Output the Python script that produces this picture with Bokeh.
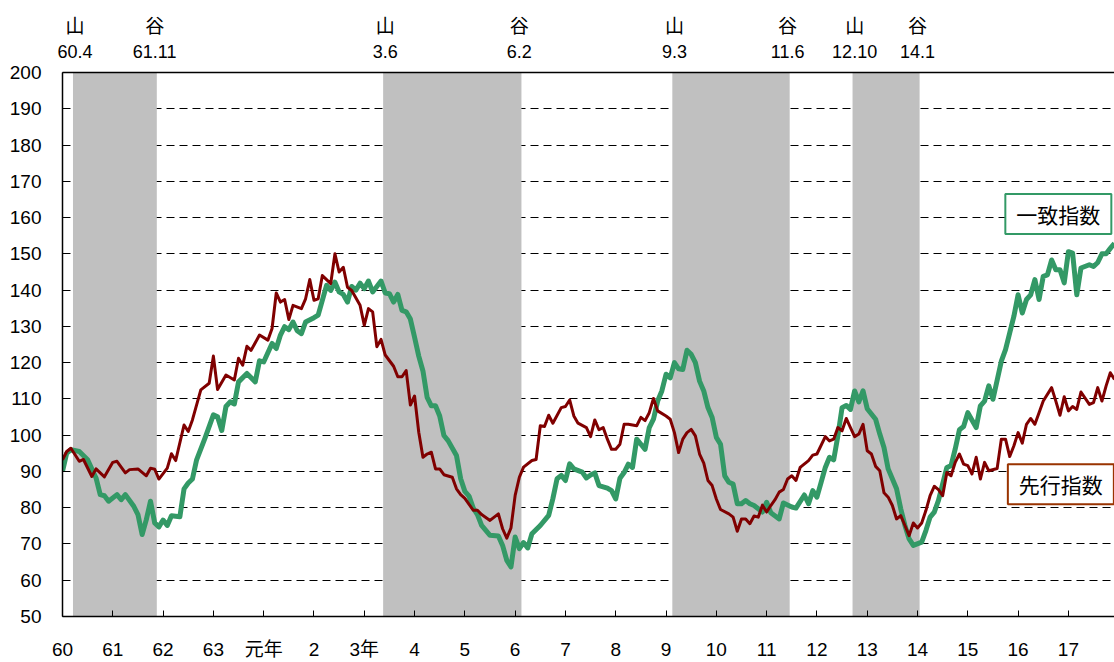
from bokeh.plotting import figure
from bokeh.models import Range1d, FixedTicker, LinearAxis, Label
from bokeh.embed import file_html
from bokeh.resources import INLINE

# months counted from January of Showa 60 (1985)
year_ticks = [0, 12, 24, 36, 48, 60, 72, 84, 96, 108, 120, 132, 144, 156, 168, 180, 192, 204, 216, 228, 240]
year_labels = ["60", "61", "62", "63", "元年", "2", "3年", "4", "5", "6", "7", "8", "9", "10",
               "11", "12", "13", "14", "15", "16", "17"]

cycle_months = [3, 22, 77, 109, 146, 173, 189, 204]
cycle_dates = ["60.4", "61.11", "3.6", "6.2", "9.3", "11.6", "12.10", "14.1"]
cycle_kinds = ["山", "谷", "山", "谷", "山", "谷", "山", "谷"]

lead_month = [0, 1, 2, 4, 5, 7, 8, 10, 12, 13, 15, 16, 18, 20, 21, 22, 23, 25, 26, 27, 29, 30, 31, 33, 35,
              36, 37, 39, 41, 42, 43, 44, 45, 47, 49, 50, 51, 52, 53, 54, 55, 57, 58, 59, 60, 61, 62, 64,
              65, 66, 67, 68, 69, 71, 72, 73, 74, 75, 76, 77, 79, 80, 81, 82, 83, 84, 85, 86, 87, 88, 89,
              90, 91, 93, 94, 95, 96, 98, 99, 100, 102, 103, 104, 105, 106, 107, 108, 109, 110, 112, 113,
              114, 115, 116, 117, 119, 120, 121, 122, 123, 125, 126, 127, 128, 129, 130, 131, 132, 133,
              134, 135, 137, 138, 139, 140, 141, 142, 144, 145, 146, 147, 148, 149, 150, 151, 152, 153,
              154, 155, 156, 157, 159, 160, 161, 162, 163, 164, 165, 166, 167, 168, 169, 170, 171, 172,
              173, 174, 175, 176, 178, 179, 180, 182, 183, 184, 185, 186, 187, 188, 189, 190, 191, 192,
              193, 194, 195, 196, 197, 198, 199, 200, 201, 202, 203, 204, 205, 206, 207, 208, 209, 210,
              211, 212, 213, 214, 215, 216, 217, 218, 219, 220, 221, 223, 224, 225, 226, 227, 228, 229,
              230, 231, 232, 233, 234, 236, 237, 238, 239, 240, 241, 242, 243, 245, 246, 247, 248, 249,
              250, 251]
lead_value = [93.2, 95.5, 96.4, 92.8, 93.3, 88.6, 90.7, 88.5, 92.5, 92.8, 89.6, 90.5, 90.7, 88.8, 90.9,
              90.6, 87.9, 90.9, 94.9, 93.0, 102.8, 101.0, 104.2, 112.5, 114.3, 121.8, 112.6, 116.6, 115.2,
              121.2, 119.3, 124.5, 123.4, 127.6, 126.2, 129.4, 139.2, 136.7, 137.4, 131.9, 135.8, 134.9,
              137.6, 142.9, 137.2, 137.6, 144.0, 141.8, 150.0, 145.0, 146.3, 140.8, 139.9, 135.8, 130.3,
              134.9, 134.0, 124.4, 126.4, 122.1, 119.0, 116.1, 116.1, 117.8, 108.3, 110.8, 100.8, 93.9,
              94.8, 95.3, 90.7, 90.7, 89.1, 88.4, 85.2, 83.6, 82.6, 79.3, 79.3, 78.1, 76.5, 77.4, 78.3,
              74.2, 71.6, 74.4, 83.4, 88.4, 91.2, 93.0, 93.3, 102.6, 102.4, 105.5, 103.3, 107.6, 107.9,
              109.7, 105.3, 103.3, 102.1, 99.6, 104.2, 101.5, 102.1, 98.9, 96.1, 96.1, 97.5, 103.0, 103.0,
              102.6, 104.9, 104.0, 106.2, 110.1, 106.7, 105.3, 104.4, 100.7, 95.2, 98.9, 100.7, 101.6,
              99.8, 94.8, 92.3, 87.5, 86.1, 82.4, 79.5, 78.3, 77.4, 73.5, 76.9, 76.9, 75.6, 77.7, 77.4,
              80.7, 78.8, 80.6, 82.2, 84.3, 85.0, 87.9, 88.8, 87.5, 91.1, 93.0, 94.5, 94.8, 99.6, 98.4,
              98.9, 102.1, 101.2, 104.6, 102.1, 99.6, 100.3, 103.0, 95.7, 94.8, 91.4, 90.2, 84.1, 82.9,
              80.6, 76.9, 77.8, 75.1, 72.3, 75.8, 74.4, 75.8, 79.2, 83.3, 85.9, 85.0, 83.3, 89.7, 88.8,
              92.5, 94.8, 92.0, 91.6, 89.3, 93.9, 87.9, 92.5, 90.2, 90.8, 98.9, 98.9, 94.1, 97.1, 100.7,
              97.8, 103.0, 104.6, 103.0, 106.2, 109.4, 113.1, 109.4, 105.5, 110.6, 106.7, 107.9, 107.1,
              111.9, 108.5, 109.0, 113.1, 109.4, 113.6, 117.2, 115.4]

coin_month = [0, 1, 2, 4, 6, 8, 9, 10, 11, 13, 14, 15, 17, 18, 19, 20, 21, 22, 23, 24, 25, 26, 28, 29, 30,
              31, 32, 34, 36, 37, 38, 39, 40, 41, 42, 44, 46, 47, 48, 50, 51, 52, 53, 54, 55, 56, 57, 58,
              60, 61, 63, 64, 65, 66, 67, 68, 69, 70, 71, 72, 73, 74, 76, 77, 78, 79, 80, 81, 82, 83, 84,
              85, 86, 87, 88, 89, 90, 91, 92, 94, 95, 96, 97, 98, 99, 100, 102, 104, 105, 106, 107, 108,
              109, 110, 111, 112, 114, 116, 117, 118, 119, 120, 121, 122, 124, 125, 126, 127, 128, 130,
              131, 132, 133, 134, 135, 136, 137, 138, 139, 140, 141, 142, 143, 144, 145, 146, 147, 148,
              149, 150, 151, 152, 153, 154, 155, 156, 157, 158, 159, 160, 161, 162, 163, 164, 165, 167,
              168, 169, 171, 172, 174, 175, 177, 178, 179, 180, 181, 182, 183, 184, 185, 186, 187, 188,
              189, 190, 191, 192, 194, 195, 196, 197, 199, 200, 201, 202, 203, 205, 206, 207, 208, 209,
              211, 212, 213, 214, 215, 216, 218, 219, 220, 221, 222, 224, 225, 226, 227, 228, 229, 230,
              231, 232, 233, 234, 235, 236, 237, 238, 239, 240, 241, 242, 243, 245, 246, 247, 248, 249,
              250, 251]
coin_value = [90.0, 95.0, 96.0, 95.5, 93.2, 88.2, 83.6, 83.3, 81.8, 83.6, 82.2, 83.6, 80.4, 78.1, 72.6,
              76.7, 81.8, 75.8, 74.7, 76.6, 75.1, 77.8, 77.5, 85.2, 86.8, 87.9, 93.2, 99.2, 105.6, 105.1,
              101.3, 107.9, 109.2, 108.6, 114.7, 117.0, 114.7, 120.5, 120.2, 125.3, 123.9, 127.6, 129.9,
              129.1, 131.2, 128.8, 128.0, 131.2, 132.4, 133.1, 141.3, 139.9, 142.2, 139.5, 138.8, 136.7,
              141.0, 140.0, 141.9, 140.4, 142.5, 139.5, 142.5, 139.2, 139.0, 136.7, 138.8, 134.4, 134.0,
              132.0, 127.0, 121.8, 117.7, 110.4, 108.1, 108.1, 105.3, 99.9, 98.5, 94.4, 88.0, 84.5, 83.2,
              79.9, 78.1, 75.1, 72.4, 72.2, 69.6, 65.5, 63.7, 71.9, 68.7, 70.4, 68.9, 72.8, 75.1, 77.9,
              82.5, 88.0, 88.9, 87.5, 92.1, 90.7, 89.8, 88.2, 89.0, 89.6, 86.1, 85.4, 84.7, 82.4, 88.1,
              89.7, 92.0, 91.1, 98.9, 97.5, 96.1, 102.1, 104.4, 109.4, 112.2, 116.8, 115.8, 120.0, 118.3,
              118.1, 123.4, 122.3, 120.0, 114.9, 112.2, 107.6, 104.9, 99.4, 97.5, 88.8, 87.0, 86.5, 81.1,
              81.1, 82.0, 81.1, 80.6, 78.8, 81.5, 78.6, 76.9, 81.3, 80.2, 79.9, 83.5, 81.1, 84.7, 82.9,
              87.0, 91.1, 93.9, 93.2, 99.8, 107.6, 108.2, 107.1, 112.2, 109.2, 112.2, 107.3, 104.4, 100.3,
              96.6, 90.7, 85.2, 79.7, 75.1, 71.4, 69.6, 70.5, 73.7, 77.4, 78.8, 82.0, 91.1, 91.6, 96.2,
              101.5, 102.4, 106.2, 102.1, 108.1, 109.4, 113.6, 109.9, 120.4, 123.6, 128.2, 132.8, 138.7,
              133.7, 137.4, 138.7, 142.9, 137.4, 143.8, 144.2, 148.3, 145.6, 145.6, 142.0, 150.6, 150.2,
              138.7, 146.1, 147.0, 146.5, 147.6, 150.0, 150.0, 151.5, 152.9]

y_ticks = list(range(50, 201, 10))

NUM_FONT = "'Liberation Sans', Arial, 'Noto Sans CJK JP'"
JP_FONT = "'Noto Sans CJK JP'"

p = figure(width=1114, height=662, x_range=Range1d(0, 251), y_range=Range1d(50, 200),
           output_backend="svg", toolbar_location=None,
           min_border_left=62, min_border_right=0, min_border_top=72, min_border_bottom=44)
p.outline_line_color = None
p.background_fill_color = "white"
p.border_fill_color = "white"

# x axis (bottom)
xa = p.xaxis[0]
xa.ticker = FixedTicker(ticks=year_ticks)
xa.major_label_overrides = {t: lab for t, lab in zip(year_ticks, year_labels)}
xa.major_tick_in = 6
xa.major_tick_out = 0
xa.minor_tick_line_color = None
xa.axis_line_width = 1.5
xa.axis_line_color = "black"
xa.major_tick_line_color = "black"
xa.major_label_text_font = NUM_FONT
xa.major_label_text_font_size = "19px"
xa.major_label_text_color = "black"
xa.major_label_standoff = 22

# y axis (left)
ya = p.yaxis[0]
ya.ticker = FixedTicker(ticks=y_ticks)
ya.major_tick_in = 7
ya.major_tick_out = 0
ya.minor_tick_line_color = None
ya.axis_line_width = 1.5
ya.axis_line_color = "black"
ya.major_tick_line_color = "black"
ya.major_label_text_font = NUM_FONT
ya.major_label_text_font_size = "19px"
ya.major_label_text_color = "black"
ya.major_label_standoff = 21

# top: dates of peaks / troughs, then 山 / 谷
top_dates = LinearAxis(ticker=FixedTicker(ticks=cycle_months),
                       major_label_overrides={m: d for m, d in zip(cycle_months, cycle_dates)})
top_dates.major_tick_line_color = None
top_dates.minor_tick_line_color = None
top_dates.major_tick_in = 0
top_dates.major_tick_out = 0
top_dates.axis_line_color = "black"
top_dates.axis_line_width = 1.5
top_dates.major_label_text_font = NUM_FONT
top_dates.major_label_text_font_size = "18px"
top_dates.major_label_text_color = "black"
top_dates.major_label_standoff = 15
p.add_layout(top_dates, "above")

top_kinds = LinearAxis(ticker=FixedTicker(ticks=cycle_months),
                       major_label_overrides={m: k for m, k in zip(cycle_months, cycle_kinds)})
top_kinds.major_tick_line_color = None
top_kinds.minor_tick_line_color = None
top_kinds.major_tick_in = 0
top_kinds.major_tick_out = 0
top_kinds.axis_line_color = None
top_kinds.major_label_text_font = JP_FONT
top_kinds.major_label_text_font_size = "19px"
top_kinds.major_label_text_color = "black"
top_kinds.major_label_standoff = 4
p.add_layout(top_kinds, "above")

p.xgrid.visible = False
p.ygrid.grid_line_color = "black"
p.ygrid.grid_line_width = 1
p.ygrid.grid_line_dash = "8 5"

# recession shading: from the peak month to the trough month
peaks = cycle_months[0::2]
troughs = cycle_months[1::2]
p.quad(left=[m - 0.5 for m in peaks], right=[m + 0.5 for m in troughs],
       bottom=50, top=200, fill_color="#C0C0C0", line_color=None)

p.line(coin_month, coin_value, line_color="#339966", line_width=5, line_join="round")
p.line(lead_month, lead_value, line_color="#800000", line_width=3, line_join="round")

lab1 = Label(x=237.6, y=161, text="一致指数", text_font=JP_FONT, text_font_size="21px",
             text_color="black", text_align="center", text_baseline="middle",
             border_line_color="#339966", border_line_width=2, background_fill_color="white",
             padding=(11, 5))
lab2 = Label(x=238.2, y=86.5, text="先行指数", text_font=JP_FONT, text_font_size="21px",
             text_color="black", text_align="center", text_baseline="middle",
             border_line_color="#993300", border_line_width=2, background_fill_color="white",
             padding=(11, 5))
p.add_layout(lab1)
p.add_layout(lab2)

open("out.html", "w").write(file_html(p, INLINE))
